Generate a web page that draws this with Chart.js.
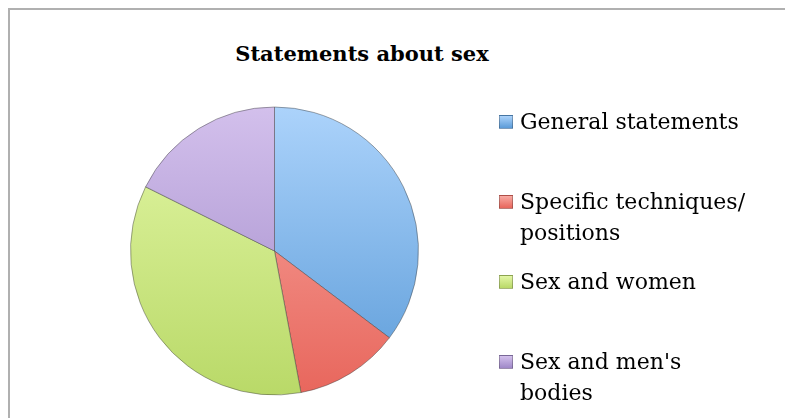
<!DOCTYPE html>
<html>
<head>
<meta charset="utf-8">
<script src="https://cdn.jsdelivr.net/npm/chart.js@4.4.0/dist/chart.umd.min.js"></script>
<style>
  body { margin: 0; background: #fff; }
  #wrap { position: relative; width: 785px; height: 418px; overflow: hidden; }
  #frame { position: absolute; left: 8px; top: 8px; width: 820px; height: 440px; border: 2px solid #b0b0b0; box-sizing: border-box; }
  #title { position: absolute; left: 192px; width: 340px; top: 41px; text-align: center;
           font: bold 21px "DejaVu Serif"; color: #000; white-space: nowrap; }
  #legend { position: absolute; left: 499px; top: 0; font: 22px "DejaVu Serif"; color: #000; }
  .item { position: absolute; left: 0; white-space: nowrap; line-height: 31px; }
  .box { position: absolute; left: 0; top: 9px; width: 14px; height: 14px; }
  .txt { position: absolute; left: 21px; top: 0; }
  canvas { position: absolute; left: 0; top: 0; }
</style>
</head>
<body>
<div id="wrap">
  <div id="frame"></div>
  <div id="title">Statements about sex</div>
  <canvas id="pie" width="785" height="418"></canvas>
  <div id="legend"></div>
</div>
<script>
const categories = ['General statements', 'Specific techniques/ positions', 'Sex and women', "Sex and men's bodies"];
const legendLines = [['General statements'], ['Specific techniques/', 'positions'], ['Sex and women'], ["Sex and men's", 'bodies']];
const counts = [6, 2, 6, 3];
const topColors = ['#acd3fb', '#f8aaa3', '#e3f7a6', '#d3c0ec'];
const bottomColors = ['#5b9bd8', '#e8665c', '#b9d968', '#9f88c8'];

function shade(ctx) {
  const area = ctx.chart.chartArea;
  if (!area) return topColors[ctx.dataIndex];
  const g = ctx.chart.ctx.createLinearGradient(0, area.top, 0, area.bottom);
  g.addColorStop(0, topColors[ctx.dataIndex]);
  g.addColorStop(1, bottomColors[ctx.dataIndex]);
  return g;
}

const chart = new Chart(document.getElementById('pie'), {
  type: 'pie',
  data: {
    labels: categories,
    datasets: [{
      data: counts,
      backgroundColor: shade,
      borderColor: 'rgba(60,60,60,0.45)',
      borderWidth: 1
    }]
  },
  options: {
    responsive: false,
    animation: false,
    layout: { padding: { left: 130, top: 106, right: 366, bottom: 22 } },
    plugins: {
      legend: { display: false },
      tooltip: { enabled: false }
    }
  }
});

// legend built from the chart's labels
const legend = document.getElementById('legend');
const entryTops = [106, 186, 266, 346];
chart.data.labels.forEach(function(label, i) {
  const item = document.createElement('div');
  item.className = 'item';
  item.style.top = entryTops[i] + 'px';
  const box = document.createElement('div');
  box.className = 'box';
  box.style.background = 'linear-gradient(' + topColors[i] + ',' + bottomColors[i] + ')';
  box.style.border = '1px solid rgba(0,0,0,0.25)';
  box.style.boxSizing = 'border-box';
  const txt = document.createElement('div');
  txt.className = 'txt';
  txt.innerHTML = legendLines[i].join('<br>');
  item.appendChild(box);
  item.appendChild(txt);
  legend.appendChild(item);
});
</script>
</body>
</html>
